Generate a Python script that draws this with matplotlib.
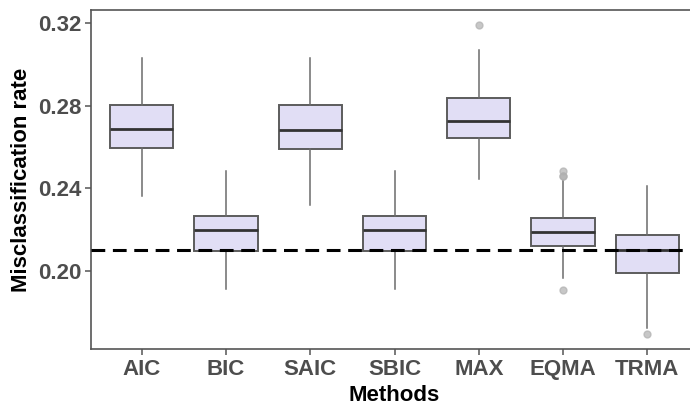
import matplotlib
matplotlib.use("Agg")
import matplotlib.pyplot as plt

methods = ["AIC", "BIC", "SAIC", "SBIC", "MAX", "EQMA", "TRMA"]
whislo = [0.2364, 0.1911, 0.2321, 0.1911, 0.2444, 0.1968, 0.1726]
q1     = [0.2595, 0.2098, 0.2589, 0.2098, 0.2645, 0.2122, 0.1989]
med    = [0.2687, 0.2198, 0.2682, 0.2198, 0.2724, 0.2187, 0.2100]
q3     = [0.2805, 0.2266, 0.2805, 0.2266, 0.2838, 0.2255, 0.2173]
whishi = [0.3029, 0.2485, 0.3029, 0.2485, 0.3068, 0.2440, 0.2413]
fliers = [[], [], [], [], [0.3189], [0.2485, 0.2461, 0.2461, 0.1908], [0.1697]]
ref_line = 0.21
yticks = [0.20, 0.24, 0.28, 0.32]

plt.rcParams['font.family'] = ['Liberation Sans', 'DejaVu Sans']

fig = plt.figure(figsize=(6.9, 4.07), dpi=100)
ax = fig.add_axes([91/690, 58/407, 607/690, 339/407])

stats = []
for i, m in enumerate(methods):
    stats.append(dict(label=m, whislo=whislo[i], q1=q1[i], med=med[i],
                      q3=q3[i], whishi=whishi[i], fliers=fliers[i]))

positions = list(range(1, len(methods) + 1))
ax.bxp(stats, positions=positions, widths=0.75, patch_artist=True,
       showcaps=False,
       boxprops=dict(facecolor='#E1DEF5', edgecolor='#5c5c5c', linewidth=1.4),
       whiskerprops=dict(color='#6b6b6b', linewidth=1.1),
       medianprops=dict(color='#333333', linewidth=2.0),
       flierprops=dict(marker='o', markersize=5, markerfacecolor='#b0b0b0',
                       markeredgecolor='#b0b0b0', alpha=0.7),
       zorder=2)

ax.axhline(ref_line, color='black', linestyle=(0, (4.5, 2.5)), linewidth=2.2, zorder=3)

ax.set_xlim(0.4, len(methods) + 0.6)
ax.set_ylim(0.1623, 0.3263)
ax.set_yticks(yticks)
ax.set_yticklabels([f"{t:.2f}" for t in yticks])
ax.set_xticks(positions)
ax.set_xticklabels(methods)

for s in ['top', 'bottom', 'left', 'right']:
    ax.spines[s].set_color('#555555')
    ax.spines[s].set_linewidth(1.2)

ax.tick_params(axis='both', colors='#555555', labelcolor='#4d4d4d',
               labelsize=16, length=4, width=1.1, pad=3)
for lab in ax.get_xticklabels() + ax.get_yticklabels():
    lab.set_fontweight('bold')

ax.set_xlabel("Methods", fontsize=16, fontweight='bold', color='black', labelpad=4)
ax.set_ylabel("Misclassification rate", fontsize=16, fontweight='bold', color='black', labelpad=4)

fig.savefig("out.png", dpi=100)
